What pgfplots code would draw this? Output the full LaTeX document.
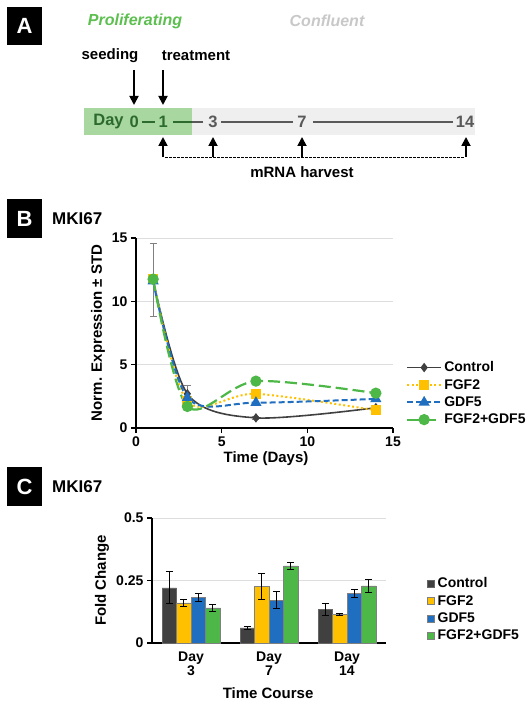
\documentclass[border=0pt]{standalone}
\usepackage{pgfplots}
\pgfplotsset{compat=1.18}
\usepackage{fontspec}
\setmainfont{Liberation Sans}
\usetikzlibrary{arrows.meta}
\definecolor{cCtrl}{HTML}{404040}
\definecolor{cFGF}{HTML}{FFC000}
\definecolor{cGDF}{HTML}{1F6EC0}
\definecolor{cBoth}{HTML}{4DB848}
\definecolor{cGreenBox}{HTML}{A8D8A0}
\definecolor{cGrayBox}{HTML}{EFEFEF}
\definecolor{cDkGreen}{HTML}{2D6A2D}
\definecolor{cDkGray}{HTML}{595959}
\definecolor{cProl}{HTML}{5CBF4F}
\definecolor{cConf}{HTML}{C8C8C8}
\newcommand{\fs}[1]{\fontsize{#1}{#1}\selectfont}
\begin{document}
\begin{tikzpicture}[x=1pt,y=1pt]
\path[use as bounding box] (0,0) rectangle (527,705);
% ---------- Panel A ----------
\fill[black] (7,660) rectangle (42,698);
\node[white,font=\fs{22}\bfseries] at (24.5,679) {A};
\node[cProl,font=\fs{16}\bfseries\itshape] at (135,684) {Proliferating};
\node[cConf,font=\fs{16}\bfseries\itshape] at (327,684) {Confluent};
\node[font=\fs{15}\bfseries] at (110,649) {seeding};
\node[font=\fs{15}\bfseries] at (196,649) {treatment};
\draw[line width=1.8pt,-{Triangle[length=9pt,width=9pt]}] (134,635) -- (134,600);
\draw[line width=1.8pt,-{Triangle[length=9pt,width=9pt]}] (163,635) -- (163,600);
\fill[cGreenBox] (84,570) rectangle (192,597);
\fill[cGrayBox] (192,570) rectangle (475,597);
\node[cDkGreen,font=\fs{16.5}\bfseries] at (108.5,583) {Day};
\node[cDkGreen,font=\fs{16.5}\bfseries] at (134.3,583) {0};
\draw[cDkGreen,line width=2.2pt] (142,583) -- (155,583);
\node[cDkGreen,font=\fs{16.5}\bfseries] at (163.3,583) {1};
\draw[cDkGreen,line width=2.2pt] (173,583) -- (192,583);
\draw[cDkGray,line width=2.2pt] (192,583) -- (203,583);
\node[cDkGray,font=\fs{16.5}\bfseries] at (213,583) {3};
\draw[cDkGray,line width=2.2pt] (221,583) -- (293,583);
\node[cDkGray,font=\fs{16.5}\bfseries] at (302,583) {7};
\draw[cDkGray,line width=2.2pt] (313,583) -- (453,583);
\node[cDkGray,font=\fs{16.5}\bfseries] at (465,583) {14};
\foreach \xx in {163,213,302,466}{
  \draw[line width=1.8pt,-{Triangle[length=9pt,width=9pt]}] (\xx,548) -- (\xx,568);
}
\draw[line width=0.8pt,dash pattern=on 2.5pt off 1.5pt] (165,548) -- (464,548);
\node[font=\fs{15}\bfseries] at (302,533) {mRNA harvest};
% ---------- Panel B ----------
\fill[black] (7,467) rectangle (42,506);
\node[white,font=\fs{22}\bfseries] at (24.5,486.5) {B};
\node[anchor=west,font=\fs{17}\bfseries,inner sep=0pt] at (52,486) {MKI67};
\begin{axis}[at={(136pt,277pt)}, anchor=south west, scale only axis,
  width=257pt, height=190pt,
  xmin=0, xmax=15, ymin=0, ymax=15,
  xtick={0,5,10,15}, ytick={0,5,10,15},
  axis x line*=bottom, axis y line*=left,
  axis line style={-, line width=1.3pt},
  tick align=outside, major tick length=5pt,
  tick style={black, line width=1.2pt},
  ymajorgrids, grid style={cConf!60, line width=0.6pt},
  /pgf/number format/assume math mode=true,
  ticklabel style={font=\fs{14}\bfseries},
  xlabel={Time (Days)}, ylabel={Norm. Expression ± STD},
  label style={font=\fs{15}\bfseries},
  xlabel style={at={(axis description cs:0.506,-0.163)}, anchor=center},
  ylabel style={at={(axis description cs:-0.148,0.5)}, anchor=center},
  legend style={draw=none, fill=none, font=\fs{14}\bfseries,
    at={(1.05,0.36)}, anchor=north west, row sep=2pt, inner sep=0pt},
  legend cell align=left,
  legend image code/.code={\draw[mark repeat=2,mark phase=2,#1] plot coordinates {(0pt,0pt) (17pt,0pt) (34pt,0pt)};},
  clip=false,
]
\addplot[cCtrl, line width=1.6pt, smooth, tension=0.5, mark=diamond*, mark size=3.5pt,
  mark options={solid, fill=cCtrl},
  error bars/.cd, y dir=both, y explicit,
  error bar style={gray, line width=0.7pt, solid},
  error mark options={rotate=90, mark size=3.5pt, gray, line width=0.7pt}]
  coordinates {(1,11.7) +- (0,2.85) (3,2.7) +- (0,0.7) (7,0.8) +- (0,0.15) (14,1.6) +- (0,0.15)};
\addlegendentry{Control}
\addplot[cFGF, line width=2pt, smooth, tension=0.5, dash pattern=on 2pt off 2.5pt,
  mark=square*, mark size=4pt, mark options={solid, fill=cFGF}]
  coordinates {(1,11.8) (3,2.1) (7,2.7) (14,1.4)};
\addlegendentry{FGF2}
\addplot[cGDF, line width=2pt, smooth, tension=0.5, dash pattern=on 6pt off 3pt,
  mark=triangle*, mark size=4.5pt, mark options={solid, fill=cGDF}]
  coordinates {(1,11.6) (3,2.4) (7,2.0) (14,2.3)};
\addlegendentry{GDF5}
\addplot[cBoth, line width=2.2pt, smooth, tension=0.5, dash pattern=on 12pt off 5pt,
  mark=*, mark size=4.5pt, mark options={solid, fill=cBoth}]
  coordinates {(1,11.75) (3,1.7) (7,3.7) (14,2.75)};
\addlegendentry{FGF2+GDF5}
\end{axis}
% ---------- Panel C ----------
\fill[black] (7,199) rectangle (42,238);
\node[white,font=\fs{22}\bfseries] at (24.5,218.5) {C};
\node[anchor=west,font=\fs{17}\bfseries,inner sep=0pt] at (52,218) {MKI67};
\begin{axis}[at={(152pt,62pt)}, anchor=south west, scale only axis,
  width=234pt, height=125pt,
  xmin=-0.5, xmax=2.5, ymin=0, ymax=0.5,
  ybar=0pt, bar width=14.5pt,
  xtick={0,1,2}, xticklabels={{Day\\3},{Day\\7},{Day\\14}},
  xticklabel style={align=center},
  ytick={0,0.25,0.5}, yticklabels={0,0.25,0.5},
  axis x line*=bottom, axis y line*=left,
  axis line style={-, line width=1.3pt},
  tick align=outside, major tick length=5pt,
  xtick style={draw=none},
  ytick style={black, line width=1.2pt},
  ymajorgrids, grid style={cConf!60, line width=0.6pt},
  /pgf/number format/assume math mode=true,
  ticklabel style={font=\fs{14}\bfseries},
  xlabel={Time Course}, ylabel={Fold Change},
  label style={font=\fs{15}\bfseries},
  xlabel style={at={(axis description cs:0.496,-0.4)}, anchor=center},
  ylabel style={at={(axis description cs:-0.214,0.5)}, anchor=center},
  legend style={draw=none, fill=none, font=\fs{14}\bfseries,
    at={(1.175,0.54)}, anchor=north west, row sep=2pt, column sep=1pt, inner sep=0pt},
  legend cell align=left,
  legend image code/.code={\draw[#1, line width=0.5pt] (0pt,-3.5pt) rectangle (7pt,3.5pt);},
  error bars/y dir=both, error bars/y explicit,
  error bars/error bar style={black, line width=0.7pt},
  error bars/error mark options={rotate=90, mark size=3.5pt, black, line width=0.7pt},
  clip=false,
]
\addplot[fill=cCtrl, draw=black!60, line width=0.5pt]
  coordinates {(0,0.221) +- (0,0.064) (1,0.061) +- (0,0.007) (2,0.135) +- (0,0.024)};
\addlegendentry{Control}
\addplot[fill=cFGF, draw=black!50, line width=0.5pt]
  coordinates {(0,0.161) +- (0,0.014) (1,0.227) +- (0,0.052) (2,0.115) +- (0,0.005)};
\addlegendentry{FGF2}
\addplot[fill=cGDF, draw=black!50, line width=0.5pt]
  coordinates {(0,0.183) +- (0,0.016) (1,0.172) +- (0,0.033) (2,0.199) +- (0,0.016)};
\addlegendentry{GDF5}
\addplot[fill=cBoth, draw=black!50, line width=0.5pt]
  coordinates {(0,0.141) +- (0,0.015) (1,0.309) +- (0,0.014) (2,0.229) +- (0,0.026)};
\addlegendentry{FGF2+GDF5}
\end{axis}
\end{tikzpicture}
\end{document}
